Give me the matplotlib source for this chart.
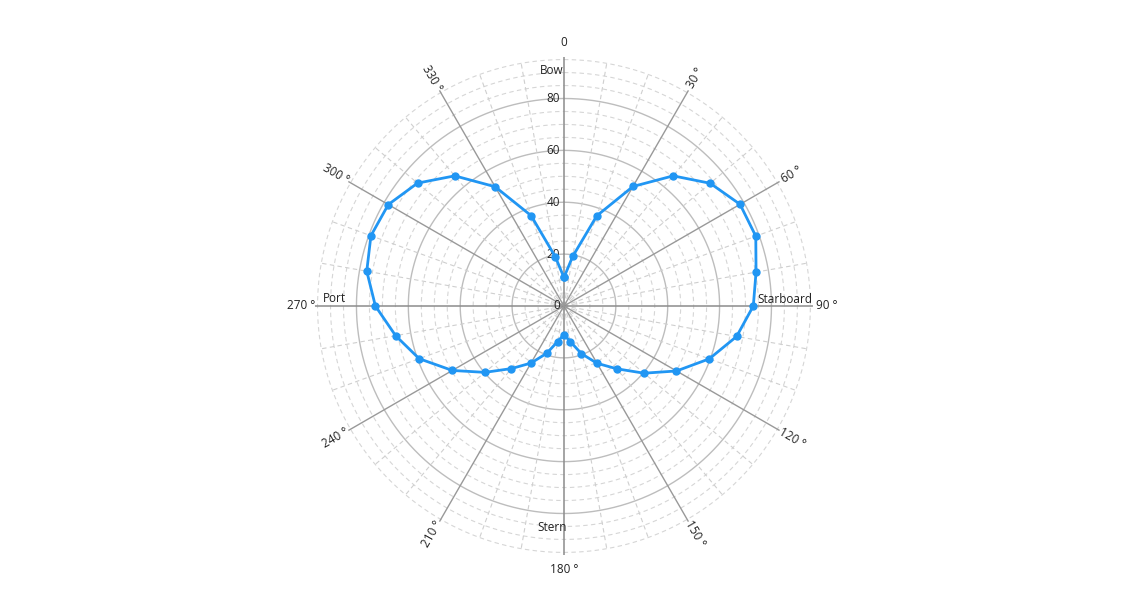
import numpy as np
import matplotlib
matplotlib.use("Agg")
import matplotlib.pyplot as plt

plt.rcParams['font.family'] = ['Open Sans', 'DejaVu Sans']

# heading (deg, clockwise from bow) and response radius
angles_deg = [0, 10, 20, 30, 40, 50, 60, 70, 80, 90, 100, 110,
              120, 130, 140, 150, 160, 170, 180, 190, 200, 210, 220, 230,
              240, 250, 260, 270, 280, 290, 300, 310, 320, 330, 340, 350]
values = [11.0, 19.4, 37.0, 53.2, 65.5, 73.6, 78.4, 78.7, 75.2, 73.0, 67.6, 59.6,
          50.1, 40.3, 31.6, 25.5, 19.5, 13.9, 11.0, 13.9, 19.4, 25.4, 31.5, 39.8,
          49.7, 59.4, 65.9, 72.7, 77.2, 79.2, 78.2, 73.7, 65.5, 53.1, 37.1, 19.3]
angle_labels = ["0", "30 °", "60 °", "90 °", "120 °", "150 °",
                "180 °", "210 °", "240 °", "270 °", "300 °", "330 °"]
radial_ticks = [0, 20, 40, 60, 80]
side_names = ["Bow", "Starboard", "Stern", "Port"]

RMAX = 95
LINE = "#2196F3"

fig = plt.figure(figsize=(11.26, 5.98), dpi=100)
ax = fig.add_axes([0.2797, 0.0719, 0.4423, 0.8328], projection="polar")
ax.set_theta_zero_location("N")
ax.set_theta_direction(-1)
ax.set_ylim(0, 96)
ax.grid(False)
ax.spines["polar"].set_visible(False)
ax.set_xticks([])
ax.set_yticks([])
ax.patch.set_alpha(0)

# circular grid
tt = np.linspace(0, 2 * np.pi, 721)
for r in range(5, RMAX + 1, 5):
    if r % 20 == 0:
        ax.plot(tt, np.full_like(tt, r), color="#bdbdbd", lw=1.0, zorder=1)
    else:
        ax.plot(tt, np.full_like(tt, r), color="#d6d6d6", lw=0.8, ls=(0, (4, 3)), zorder=1)

# spokes
for a in range(0, 360, 10):
    th = np.deg2rad(a)
    if a % 90 == 0:
        ax.plot([th, th], [0, 96], color="#8c8c8c", lw=1.1, zorder=2)
    elif a % 30 == 0:
        ax.plot([th, th], [0, 96], color="#999999", lw=1.0, zorder=2)
    else:
        ax.plot([th, th], [0, RMAX], color="#cfcfcf", lw=0.8, ls=(0, (4, 3)), zorder=1)

# series, closed
th = np.deg2rad(angles_deg + [angles_deg[0]])
rv = values + [values[0]]
ax.plot(th, rv, color=LINE, lw=2.0, marker="o", ms=5, zorder=5)

# angle labels
for i, lab in enumerate(angle_labels):
    a = i * 30
    rot = (90 - a) % 180
    if rot > 90:
        rot -= 180
    if a in (0, 90, 180, 270):
        rot = 0
    ax.text(np.deg2rad(a), 101.5, lab, ha="center", va="center",
            rotation=rot, rotation_mode="anchor", fontsize=8.5, color="#222222")

# radial labels along the bow spoke
for r in radial_ticks:
    ax.annotate(str(r), xy=(0, r), xytext=(-3, 0), textcoords="offset points",
                ha="right", va="center", fontsize=8.5, color="#222222", zorder=4)

# side names
side_pos = [(-2.9, 90.8), (88.2, 85.4), (183.1, 85.5), (271.75, 88.5)]
for name, (a, r) in zip(side_names, side_pos):
    ax.text(np.deg2rad(a), r, name, ha="center", va="center", fontsize=8.5, color="#222222")

fig.savefig("out.png", dpi=100)
